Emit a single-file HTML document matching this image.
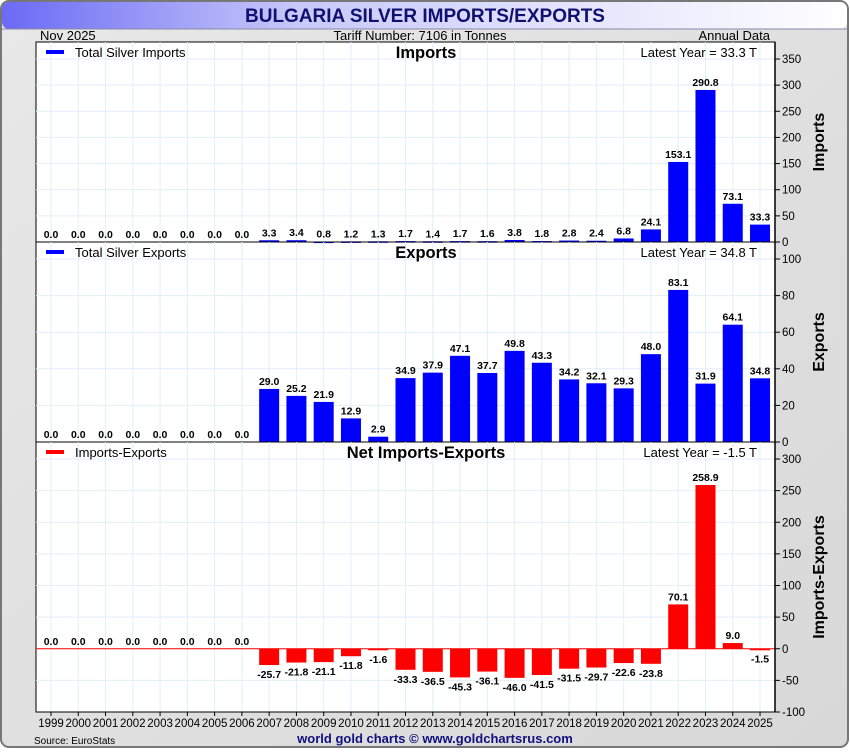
<!DOCTYPE html>
<html><head><meta charset="utf-8"><style>
body{margin:0;width:850px;height:750px;overflow:hidden;background:#fff;font-family:"Liberation Sans",sans-serif}
</style></head><body>
<svg width="850" height="750" xmlns="http://www.w3.org/2000/svg">
<defs>
<linearGradient id="tg" x1="0" x2="1"><stop offset="0" stop-color="#6a6af5"/><stop offset="0.35" stop-color="#c8c8fa"/><stop offset="1" stop-color="#fff"/></linearGradient>
<linearGradient id="bg" x1="0" x2="1" y1="0" y2="1"><stop offset="0" stop-color="#e8e8e8"/><stop offset="1" stop-color="#d8d8d8"/></linearGradient>
</defs>
<rect x="1" y="1" width="847" height="746" rx="8" fill="url(#bg)" stroke="#777" stroke-width="2"/>
<rect x="2" y="2" width="845" height="27" rx="7" fill="url(#tg)"/>
<line x1="2" y1="29" x2="847" y2="29" stroke="#8888aa"/>
<text x="425" y="22" text-anchor="middle" font-size="19" font-weight="bold" fill="#101070">BULGARIA SILVER IMPORTS/EXPORTS</text>
<text x="40" y="40" font-size="13">Nov  2025</text>
<text x="420" y="40" font-size="13" text-anchor="middle">Tariff Number: 7106 in Tonnes</text>
<text x="770" y="40" font-size="13" text-anchor="end">Annual Data</text>
<rect x="36" y="42" width="739" height="670" fill="#fff" stroke="#000"/>
<g id="g"></g>
<text x="435" y="743" text-anchor="middle" font-size="13" font-weight="bold" fill="#101080">world gold charts © www.goldchartsrus.com</text>
<text x="34" y="744" font-size="10">Source: EuroStats</text>
</svg>
<script>
const years=[1999,2000,2001,2002,2003,2004,2005,2006,2007,2008,2009,2010,2011,2012,2013,2014,2015,2016,2017,2018,2019,2020,2021,2022,2023,2024,2025];
const imports=[0,0,0,0,0,0,0,0,3.3,3.4,0.8,1.2,1.3,1.7,1.4,1.7,1.6,3.8,1.8,2.8,2.4,6.8,24.1,153.1,290.8,73.1,33.3];
const exportsV=[0,0,0,0,0,0,0,0,29.0,25.2,21.9,12.9,2.9,34.9,37.9,47.1,37.7,49.8,43.3,34.2,32.1,29.3,48.0,83.1,31.9,64.1,34.8];
const net=[0,0,0,0,0,0,0,0,-25.7,-21.8,-21.1,-11.8,-1.6,-33.3,-36.5,-45.3,-36.1,-46.0,-41.5,-31.5,-29.7,-22.6,-23.8,70.1,258.9,9.0,-1.5];
const impTicks=[0,50,100,150,200,250,300,350];
const expTicks=[0,20,40,60,80,100];
const netTicks=[-100,-50,0,50,100,150,200,250,300];
const NS="http://www.w3.org/2000/svg",G=document.getElementById('g');
function el(t,a,txt){const e=document.createElementNS(NS,t);for(const k in a)e.setAttribute(k,a[k]);if(txt!==undefined)e.textContent=txt;G.appendChild(e);return e;}
const L=36,R=775;
function xs(i){return 51+i*27.27;}
const panels=[
 {name:'imports',top:42,bot:242,data:imports,ticks:impTicks,color:'#0000ff',legend:'Total Silver Imports',title:'Imports',latest:'Latest Year = 33.3 T',axis:'Imports'},
 {name:'exports',top:242,bot:442,data:exportsV,ticks:expTicks,color:'#0000ff',legend:'Total Silver Exports',title:'Exports',latest:'Latest Year = 34.8 T',axis:'Exports'},
 {name:'net',top:442,bot:712,data:net,ticks:netTicks,color:'#ff0000',legend:'Imports-Exports',title:'Net Imports-Exports',latest:'Latest Year = -1.5 T',axis:'Imports-Exports'}];
panels[0].ys=v=>242-v*183/350;
panels[1].ys=v=>442-v*183/100;
panels[2].ys=v=>712-(v+100)*253/400;
panels.forEach(p=>{
 const ys=p.ys;
 years.forEach((y,i)=>{let g=el('line',{x1:xs(i),x2:xs(i),y1:p.top,y2:p.bot,stroke:'#e2eef8'});
 });
 p.ticks.forEach(t=>{const y=ys(t);
  let g=el('line',{x1:L,x2:R,y1:y,y2:y,stroke:'#e2eef8'});
  let tk=el('line',{x1:R,x2:R+5,y1:y,y2:y,stroke:'#000'});
  let tl=el('text',{x:R+7,y:y+4,'font-size':11.5},t);});
 p.data.forEach((v,i)=>{const y0=ys(0),y1=ys(v);
  let b=el('rect',{x:xs(i)-10,y:Math.min(y0,y1),width:20,height:Math.max(Math.abs(y1-y0),v!==0?1.5:0),fill:p.color});
  
  const ly=v>=0?y1-4:y1+13;
  let t=el('text',{x:xs(i),y:ly,'font-size':10.5,'font-weight':'bold','text-anchor':'middle'},v.toFixed(1));
  });
 if(p.name==='net'){let z=el('line',{x1:L,x2:R,y1:ys(0),y2:ys(0),stroke:'#ff0000'});}
 let sep=el('line',{x1:L,x2:R,y1:p.bot,y2:p.bot,stroke:'#000'});
 let lg=el('rect',{x:46,y:p.top+8,width:18,height:4,fill:p.color});
 let lt=el('text',{x:75,y:p.top+15,'font-size':13},p.legend);
 let tt=el('text',{x:426,y:p.top+16,'font-size':16.5,'font-weight':'bold','text-anchor':'middle'},p.title);
 let la=el('text',{x:757,y:p.top+15,'font-size':13,'text-anchor':'end'},p.latest);
 const cy=(p.top+p.bot)/2;
 let at=el('text',{x:824,y:cy,'font-size':16,'font-weight':'bold','text-anchor':'middle',transform:`rotate(-90 824 ${cy})`},p.axis);
});
let ax=el('line',{x1:R,x2:R,y1:42,y2:712,stroke:'#000','stroke-width':1.5});
years.forEach((y,i)=>{let tk=el('line',{x1:xs(i),x2:xs(i),y1:712,y2:716,stroke:'#000'});
 let t=el('text',{x:xs(i),y:727,'font-size':11.5,'text-anchor':'middle'},y);});
</script>
</body></html>
